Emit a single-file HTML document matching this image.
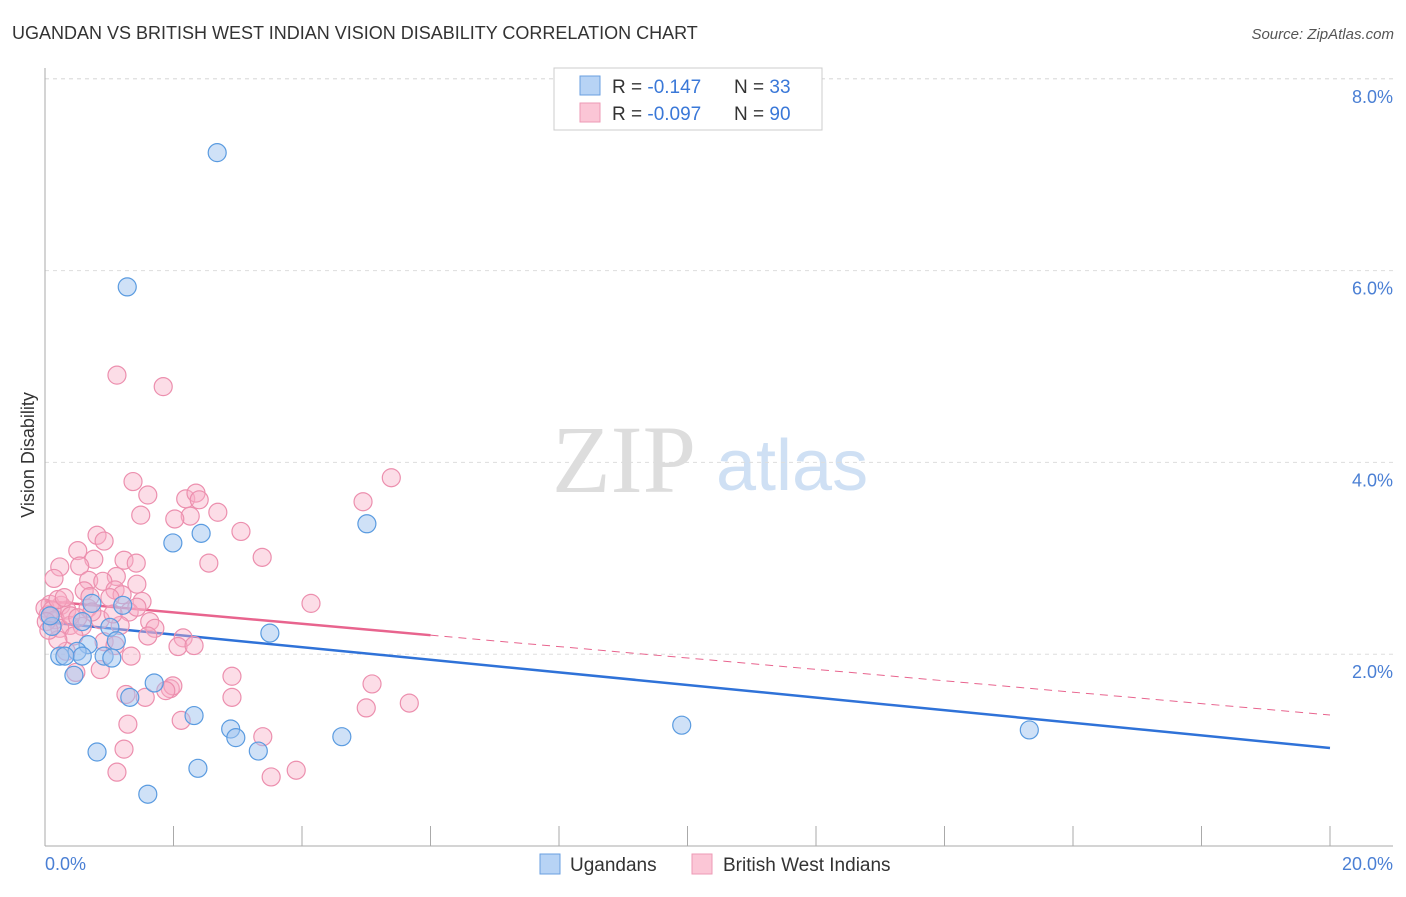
<!DOCTYPE html>
<html><head><meta charset="utf-8"><style>
body{margin:0;background:#fff;font-family:"Liberation Sans",sans-serif;}
</style></head><body>
<svg width="1406" height="892" xmlns="http://www.w3.org/2000/svg">
<text x="12" y="39" font-size="18" fill="#333">UGANDAN VS BRITISH WEST INDIAN VISION DISABILITY CORRELATION CHART</text>
<text x="1394" y="39" font-size="15" fill="#555" font-style="italic" text-anchor="end">Source: ZipAtlas.com</text>
<g>
<text x="552" y="492" font-size="96" fill="#ddd" font-family="Liberation Serif,serif">ZIP</text>
<text x="716" y="490" font-size="72" fill="#cfe0f4">atlas</text>
</g>
<g id="grid"></g><g id="axes"></g><g id="trend"></g><g id="pts"></g>
<text transform="translate(34,455) rotate(-90)" font-size="18" fill="#333" text-anchor="middle">Vision Disability</text>
<text x="45" y="870" font-size="18" fill="#4a7fd4">0.0%</text>
<text x="1393" y="870" font-size="18" fill="#4a7fd4" text-anchor="end">20.0%</text>
<g>
<rect x="554" y="68" width="268" height="62" fill="#fff" stroke="#ccc"/>
<rect x="580" y="76" width="20" height="19" fill="#b7d3f5" stroke="#6a9fe0"/>
<rect x="580" y="103" width="20" height="19" fill="#fbc6d6" stroke="#ee9ab5"/>
<text x="612" y="93" font-size="19" fill="#333">R = <tspan fill="#3a78d8">-0.147</tspan><tspan x="734">N = </tspan><tspan fill="#3a78d8">33</tspan></text>
<text x="612" y="120" font-size="19" fill="#333">R = <tspan fill="#3a78d8">-0.097</tspan><tspan x="734">N = </tspan><tspan fill="#3a78d8">90</tspan></text>
</g>
<g>
<rect x="540" y="854" width="20" height="20" fill="#b7d3f5" stroke="#6a9fe0"/>
<text x="570" y="871" font-size="19" fill="#333">Ugandans</text>
<rect x="692" y="854" width="20" height="20" fill="#fbc6d6" stroke="#ee9ab5"/>
<text x="723" y="871" font-size="19" fill="#333">British West Indians</text>
</g>
</svg>
<script>
const yTicks=[2,4,6,8];
const yTickLabels=["2.0%","4.0%","6.0%","8.0%"];
const blueX=[2.68,1.28,5.01,1.99,2.43,3.50,1.21,0.73,1.01,1.11,0.67,0.50,0.58,0.23,0.31,0.92,1.04,0.45,1.70,1.32,2.32,2.89,2.97,3.32,4.62,0.81,2.38,1.60,9.91,15.32,0.11,0.08,0.58];
const blueY=[7.23,5.83,3.36,3.16,3.26,2.22,2.51,2.53,2.28,2.14,2.10,2.03,1.98,1.98,1.98,1.98,1.96,1.78,1.70,1.55,1.36,1.22,1.13,0.99,1.14,0.98,0.81,0.54,1.26,1.21,2.29,2.40,2.34];
const pinkX=[1.12,1.84,5.39,1.37,1.60,2.19,2.35,2.40,4.95,2.26,2.69,1.49,2.02,3.05,0.81,0.92,0.51,3.38,2.55,0.76,1.23,0.23,0.54,1.42,1.11,0.68,0.90,1.43,0.14,1.09,0.61,1.20,1.01,1.51,4.14,0.25,0.08,0.34,0.67,1.31,1.63,0.00,0.05,0.16,0.39,0.58,1.17,1.71,2.15,1.60,0.23,0.45,0.92,2.07,2.32,1.09,0.33,1.34,0.86,2.91,0.48,5.09,1.26,1.95,1.99,1.88,2.91,5.00,5.67,2.12,1.29,1.56,3.39,1.23,1.12,3.52,3.91,0.11,0.20,0.02,0.30,0.70,0.86,1.06,1.43,0.40,0.20,0.73,0.51,0.06];
const pinkY=[4.91,4.79,3.84,3.80,3.66,3.62,3.68,3.61,3.59,3.44,3.48,3.45,3.41,3.28,3.24,3.18,3.08,3.01,2.95,2.99,2.98,2.91,2.92,2.95,2.81,2.77,2.76,2.73,2.79,2.67,2.66,2.62,2.59,2.55,2.53,2.51,2.52,2.46,2.48,2.44,2.34,2.48,2.41,2.36,2.30,2.29,2.30,2.27,2.17,2.19,2.27,2.19,2.13,2.08,2.09,2.09,2.03,1.98,1.84,1.77,1.81,1.69,1.58,1.64,1.67,1.62,1.55,1.44,1.49,1.31,1.27,1.55,1.14,1.01,0.77,0.72,0.79,2.46,2.57,2.34,2.59,2.60,2.36,2.42,2.49,2.40,2.15,2.44,2.38,2.25];
const blueTrend=[2.336,1.022];
const pinkTrend=[2.555,1.366];
const pinkSolidEnd=6;
const NS="http://www.w3.org/2000/svg";
const xs=v=>45+v*64.25, ys=v=>846-v*95.9;
function mk(t,a,p){const e=document.createElementNS(NS,t);for(const k in a)e.setAttribute(k,a[k]);p.appendChild(e);return e;}
const grid=document.getElementById('grid'),axes=document.getElementById('axes'),trend=document.getElementById('trend'),pts=document.getElementById('pts');
yTicks.forEach((v,i)=>{
 const l=mk('line',{x1:45,x2:1393,y1:ys(v),y2:ys(v),stroke:'#ddd','stroke-dasharray':'4,4'},grid);
 
 
 const t=mk('text',{x:1393,y:ys(v)+24,'font-size':18,fill:'#4a7fd4','text-anchor':'end'},grid);
 t.textContent=yTickLabels[i];
 
 
});
const gl=mk('line',{x1:45,x2:1393,y1:ys(8),y2:ys(8),stroke:'#ddd','stroke-dasharray':'4,4'},grid);
mk('line',{x1:45,x2:45,y1:68,y2:846,stroke:'#aaa'},axes);
mk('line',{x1:45,x2:1393,y1:846,y2:846,stroke:'#aaa'},axes);
for(let i=0;i<=10;i++){const tk=mk('line',{x1:xs(i*2),x2:xs(i*2),y1:826,y2:846,stroke:'#aaa'},axes);
 
 }
const lt=(a,x)=>a[0]+(a[1]-a[0])*x/20;
let bl=mk('line',{x1:xs(0),y1:ys(blueTrend[0]),x2:xs(20),y2:ys(blueTrend[1]),stroke:'#2f72d8','stroke-width':2.5},trend);


let pl=mk('line',{x1:xs(0),y1:ys(pinkTrend[0]),x2:xs(pinkSolidEnd),y2:ys(lt(pinkTrend,pinkSolidEnd)),stroke:'#e8648e','stroke-width':2.5},trend);


let pd=mk('line',{x1:xs(pinkSolidEnd),y1:ys(lt(pinkTrend,pinkSolidEnd)),x2:xs(20),y2:ys(pinkTrend[1]),stroke:'#e8648e','stroke-width':1,'stroke-dasharray':'8,6'},trend);


pinkX.forEach((x,i)=>{const c=mk('circle',{cx:xs(x),cy:ys(pinkY[i]),r:9,fill:'rgba(248,175,198,0.42)',stroke:'#ec8fae','stroke-width':1.2},pts);
 
 });
blueX.forEach((x,i)=>{const c=mk('circle',{cx:xs(x),cy:ys(blueY[i]),r:9,fill:'rgba(160,196,240,0.5)',stroke:'#5a9be0','stroke-width':1.2},pts);
 
 });
</script>
</body></html>
